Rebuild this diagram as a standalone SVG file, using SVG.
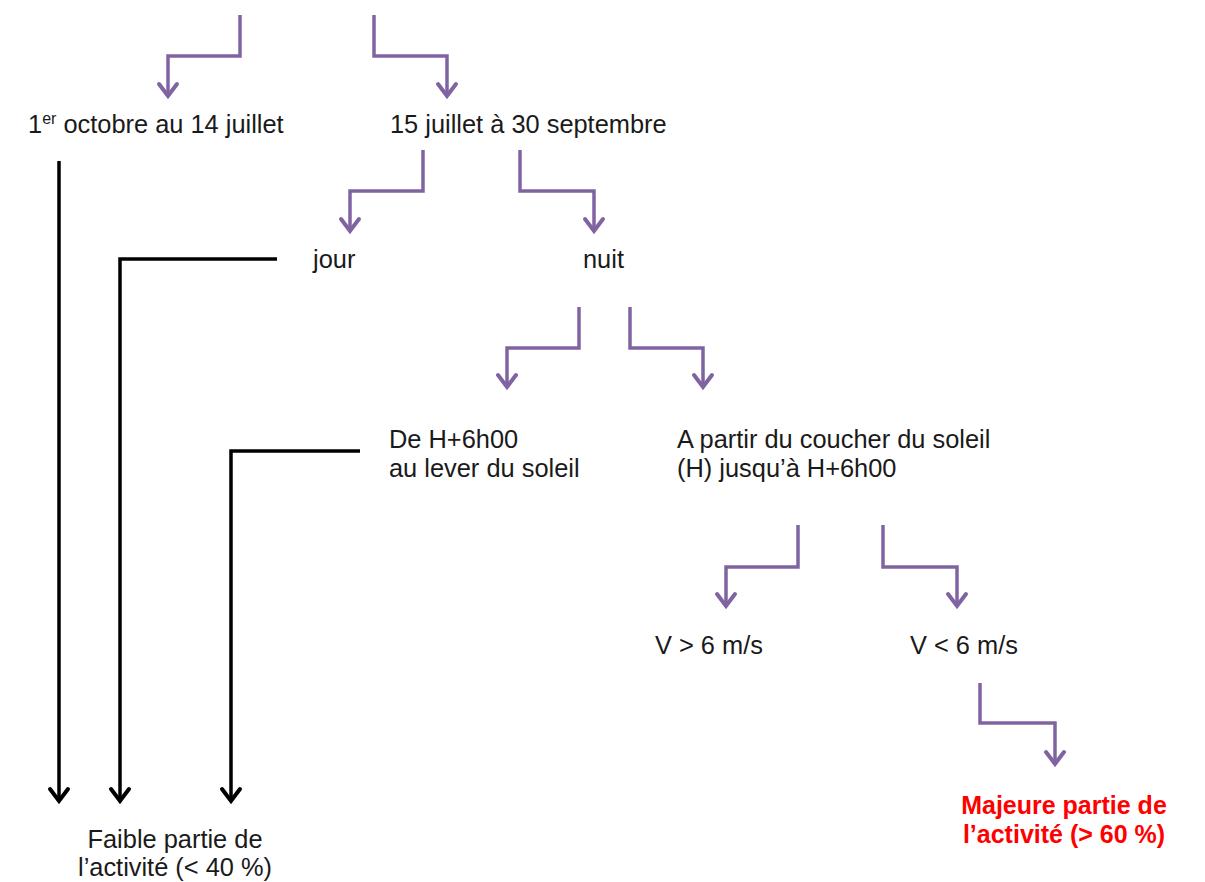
<svg xmlns="http://www.w3.org/2000/svg" width="1205" height="882" viewBox="0 0 1205 882">
<style>
text{font-family:"Liberation Sans",Arial,sans-serif;font-size:25.4px;fill:#1a1a1a}
.red{fill:#ff0000;font-weight:bold;font-size:25px}
.p{fill:none;stroke:#8064a2;stroke-width:3.5;stroke-linejoin:miter;marker-end:url(#ap)}
.k{fill:none;stroke:#000;stroke-width:3.5;stroke-linejoin:miter;marker-end:url(#ak)}
</style>
<defs>
<marker id="ap" markerUnits="userSpaceOnUse" orient="auto" markerWidth="30" markerHeight="30" refX="0" refY="0" viewBox="-15 -15 30 30" overflow="visible">
<path d="M-12,-9 L0,0 L-12,9" fill="none" stroke="#8064a2" stroke-width="4" stroke-linecap="round"/>
</marker>
<marker id="ak" markerUnits="userSpaceOnUse" orient="auto" markerWidth="30" markerHeight="30" refX="0" refY="0" viewBox="-15 -15 30 30" overflow="visible">
<path d="M-12,-9 L0,0 L-12,9" fill="none" stroke="#000" stroke-width="4" stroke-linecap="round"/>
</marker>
</defs>
<g id="connectors">
<path class="p" d="M240,15 V56 H168 V96"/>
<path class="p" d="M374,15 V56 H447 V96"/>
<path class="p" d="M423,150 V191 H350 V231"/>
<path class="p" d="M520,150 V191 H594 V231"/>
<path class="p" d="M579,307 V348 H507 V387"/>
<path class="p" d="M630,307 V348 H703 V387"/>
<path class="p" d="M798,525 V567 H726 V606"/>
<path class="p" d="M883,525 V567 H957 V606"/>
<path class="p" d="M980,683 V723 H1055 V764"/>
<path class="k" d="M59,161 V801"/>
<path class="k" d="M277,259 H120 V801"/>
<path class="k" d="M360,451 H231 V801"/>
</g>
<g id="n1"><text x="28" y="133">1<tspan font-size="16" dy="-9">er</tspan><tspan dy="9"> octobre au 14 juillet</tspan></text></g>
<g id="n2"><text x="390" y="133">15 juillet à 30 septembre</text></g>
<g id="n3"><text x="313" y="268">jour</text></g>
<g id="n4"><text x="583" y="268">nuit</text></g>
<g id="n5"><text x="389" y="448">De H+6h00</text><text x="389" y="477">au lever du soleil</text></g>
<g id="n6"><text x="677" y="448">A partir du coucher du soleil</text><text x="677" y="477">(H) jusqu’à H+6h00</text></g>
<g id="n7"><text x="655" y="654">V &gt; 6 m/s</text></g>
<g id="n8"><text x="910" y="654">V &lt; 6 m/s</text></g>
<g id="n9"><text class="red" x="1064" y="814" text-anchor="middle">Majeure partie de</text><text class="red" x="1064" y="843" text-anchor="middle">l’activité (&gt; 60 %)</text></g>
<g id="n10"><text x="175" y="848" text-anchor="middle">Faible partie de</text><text x="175" y="876" text-anchor="middle">l’activité (&lt; 40 %)</text></g>
</svg>
